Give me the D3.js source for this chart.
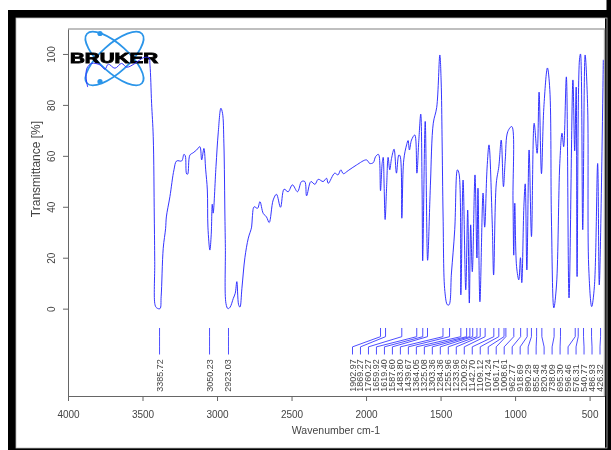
<!DOCTYPE html>
<html>
<head>
<meta charset="utf-8">
<script src="https://cdn.jsdelivr.net/npm/d3@7"></script>
<style>
  html, body { margin: 0; padding: 0; background: #fff; }
  svg { display: block; filter: blur(0.55px); }
  text { font-family: "Liberation Sans", Arial, sans-serif; fill: #444; }
</style>
</head>
<body>
<div id="container"></div>
<script>
// spectrum, high wavenumber to low
const wavenumbers = [3868,3879,3872,3841,3785,3752,3730,3685,3640,3606,3550,3495,3457,3450,3439,3428,3421,3418,3416,3405,3383,3375,3361,3345,3340,3316,3289,3271,3237,3222,3213,3204,3197,3182,3160,3137,3115,3103,3088,3076,3065,3061,3048,3039,3032,3026,3007,2992,2974,2963,2954,2947,2944,2940,2927,2913,2891,2878,2867,2855,2846,2833,2813,2790,2768,2763,2751,2728,2712,2690,2668,2650,2623,2601,2574,2550,2523,2494,2460,2433,2411,2399,2370,2343,2321,2288,2265,2254,2210,2189,2169,2153,2120,2064,1997,1975,1952,1936,1918,1912,1903,1892,1885,1879,1872,1862,1852,1841,1829,1812,1796,1780,1772,1760,1747,1728,1718,1709,1695,1673,1659,1646,1633,1624,1620,1603,1587,1572,1567,1549,1526,1505,1496,1490,1483,1471,1454,1443,1427,1405,1387,1376,1364,1349,1331,1318,1307,1298,1287,1269,1256,1249,1236,1215,1204,1188,1175,1153,1144,1126,1109,1093,1078,1066,1049,1022,1014,1009,1002,990,975,964,955,941,932,921,906,890,872,852,839,823,807,783,767,756,740,722,700,685,674,656,638,612,600,590,584,568,561,546,530,513,506,486,468,446,435,408];
const transmittance = [87,91,94.5,96.3,95.7,94,96,94.4,96.3,94.8,96.3,98.5,98.5,95.7,80.6,67.5,36,18.5,1.5,0.3,0,4.7,23.7,31.5,36,44,54.5,58,58,60.6,60,52.9,52.8,60.3,61.2,62.3,63.6,58.4,62.9,54.5,46.6,32,23,29,41,37.5,55.8,69,78.7,76.7,65,36,24,2,0,0.5,4,6,10.6,1.5,0.6,8,20,27.7,32,36,40,39.4,42,37.4,36,33.8,42.7,44.9,39.8,46.9,45.9,48.6,45.9,49.9,49.9,44.3,49.9,48.8,50.8,49.9,51.2,49.2,53.2,52.5,54.5,53,54.2,56.4,58.4,57,57.3,59.7,60.6,60,46.3,57,59.4,49,35,47.9,59.4,54.5,59,62.6,53.2,60.3,60,35.5,58.4,64.3,66,62.3,66.2,68.2,53.2,66,76.4,46.6,18.8,73.5,19,42,50.5,72.8,79,99.6,89,67.5,36,6.7,1.5,1.5,14,31,54.5,53,5.4,50.5,7.4,38.7,2.2,32.9,14.5,52.5,19.9,47.3,2.7,45.4,32,55.2,64.3,32.9,13.2,49.3,55.8,66.2,47.9,58.4,69.5,71.5,42.6,21,41.4,16.5,11.3,20,10.2,40,49,15.2,62.3,28.3,72.8,61,85,53,79,94.5,86,34.8,0.3,9.3,57,68.9,63.6,91,4.2,89.8,62,87,12.6,97.7,100,31,99.6,79,16.5,0.8,8.6,57,9.3,97.7];

const peakLabels = ["3385.72","3050.23","2923.03"];
const denseLabels = ["1902.97","1869.27","1760.27","1659.92","1619.40","1587.60","1483.80","1439.67","1364.05","1325.08","1303.36","1284.36","1255.96","1233.96","1200.92","1142.70","1109.12","1074.24","1061.71","1008.61","962.77","918.69","890.29","855.48","820.34","738.09","695.30","596.46","576.31","540.77","486.93","426.32"];

const xTicks = [4000,3500,3000,2500,2000,1500,1000,500];
const yTicks = [0,20,40,60,80,100];

const w = 611;
const h = 450;
const grey = "#666";

const svg = d3.select("#container")
  .append("svg")
  .attr("width", w)
  .attr("height", h);

const x = d3.scaleLinear().domain([4000, 400]).range([68, 604.5]);
const y = d3.scaleLinear().domain([-34.3, 109.8]).range([396, 29]);

// black picture frame
svg.append("rect").attr("x", 12).attr("y", 14).attr("width", 597).attr("height", 438)
  .attr("fill", "none").attr("stroke", "#000").attr("stroke-width", 8);
svg.append("rect").attr("x", 606.5).attr("y", 0).attr("width", 6).attr("height", h).attr("fill", "#000");
svg.append("rect").attr("x", 16).attr("y", 18).attr("width", 591).attr("height", 430)
  .attr("fill", "none").attr("stroke", "#bbb").attr("stroke-width", 0.8);

// logo sits under the curve
const logo = svg.append("g").attr("transform", "translate(114.5,58.5)");
[42, -42].forEach((a) => {
  logo.append("ellipse").attr("rx", 37).attr("ry", 14)
    .attr("transform", `rotate(${a})`)
    .attr("fill", "none").attr("stroke", "#2b95e9").attr("stroke-width", 1.8);
});
[-25, 23].forEach((d) => {
  logo.append("circle").attr("cx", -14.5).attr("cy", d).attr("r", 2.6).attr("fill", "#2b95e9");
});

// top and right sides of the box
svg.append("path")
  .attr("d", `M${x.range()[0]},${y.range()[1]}H${x.range()[1]}V${y.range()[0]}`)
  .attr("fill", "none").attr("stroke", "#aaa").attr("stroke-width", 1.4);

const xAxis = d3.axisBottom(x).tickValues(xTicks).tickSize(5).tickSizeOuter(0).tickFormat(d3.format("d"));
const yAxis = d3.axisLeft(y).tickValues(yTicks).tickSize(5).tickSizeOuter(0).tickFormat(d3.format("d"));

const gx = svg.append("g").attr("transform", "translate(0,396)").call(xAxis);
gx.selectAll("text").attr("dy", 0).attr("y", 21.5).style("font-size", "10px");
const gy = svg.append("g").attr("transform", "translate(68,0)").call(yAxis);
gy.selectAll("text")
  .attr("transform", "translate(-13,0) rotate(-90)")
  .attr("x", 0).attr("y", 0).attr("dy", 0)
  .attr("text-anchor", "middle")
  .style("font-size", "10px");
svg.selectAll(".domain, .tick line").attr("stroke", grey);
svg.selectAll(".tick text").attr("fill", "#333");

// spectrum
const line = d3.line()
  .x((d, i) => x(wavenumbers[i]))
  .y((d) => y(d))
  .curve(d3.curveCatmullRom.alpha(0.5));

svg.append("path")
  .attr("d", line(transmittance))
  .attr("fill", "none")
  .attr("stroke", "#2a2aff")
  .attr("stroke-width", 0.95);

logo.append("text")
  .attr("x", -44.5).attr("y", 4)
  .attr("textLength", 88).attr("lengthAdjust", "spacingAndGlyphs")
  .attr("font-size", 15)
  .attr("font-weight", "bold")
  .style("fill", "#000")
  .attr("stroke", "#000").attr("stroke-width", 0.9)
  .text("BRUKER");

// peak picks
const slots = d3.scalePoint().domain(denseLabels).range([352.5, 600]);
const bend = d3.scaleLinear().domain([0, 1]).range([y(-11), y(-15)]);

const pickPath = (px, lx) => `M${px},${y(-7.6)}V${bend(0)}L${lx},${bend(1)}V${y(-18)}`;

const picks = svg.append("g").attr("fill", "none").attr("stroke", "#3b3bff").attr("stroke-width", 0.9);
peakLabels.forEach((p) => {
  picks.append("path").attr("d", pickPath(x(+p), x(+p)));
});
denseLabels.forEach((p) => {
  picks.append("path").attr("d", pickPath(x(+p), slots(p)));
});

const pickText = (label, px) => {
  svg.append("text")
    .attr("transform", `translate(${px + 3},${y(-32.6)}) rotate(-90)`)
    .attr("font-size", 9)
    .text(label);
};
peakLabels.forEach((p) => pickText(p, x(+p)));
denseLabels.forEach((p) => pickText(p, slots(p)));

// axis titles
svg.append("text")
  .attr("x", 336).attr("y", 434)
  .attr("text-anchor", "middle")
  .attr("font-size", 10.5)
  .text("Wavenumber cm-1");

svg.append("text")
  .attr("transform", "translate(40,169) rotate(-90)")
  .attr("text-anchor", "middle")
  .attr("font-size", 12)
  .text("Transmittance [%]");
</script>
</body>
</html>
